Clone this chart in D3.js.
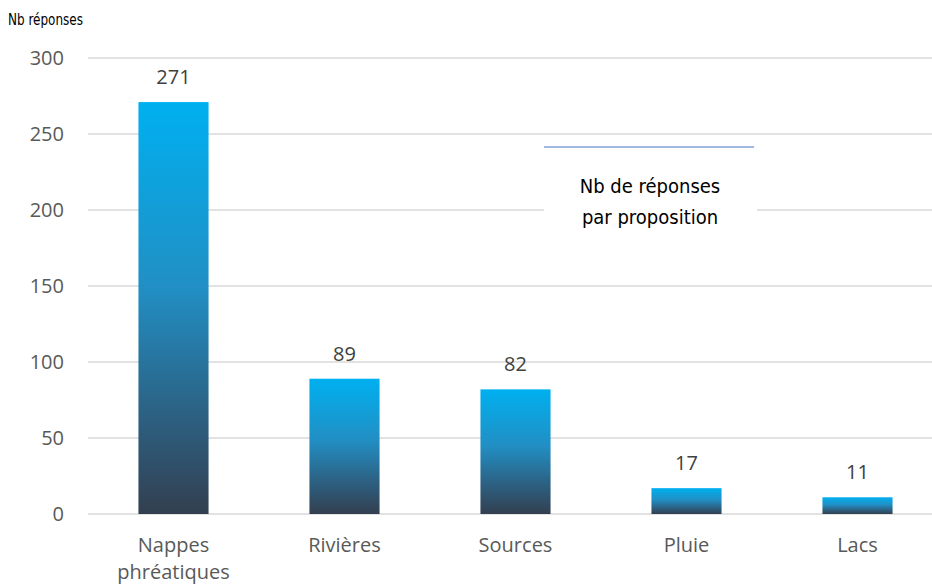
<!DOCTYPE html>
<html><head><meta charset="utf-8">
<script src="https://cdn.jsdelivr.net/npm/d3@7"></script>
<style>html,body{margin:0;padding:0;background:#fff;}svg{display:block;}</style>
</head><body>
<script>
const categories = [["Nappes","phréatiques"],["Rivières"],["Sources"],["Pluie"],["Lacs"]];
const values = [271, 89, 82, 17, 11];
const yTicks = [0, 50, 100, 150, 200, 250, 300];
const yTitle = "Nb réponses";
const noteLines = ["Nb de réponses", "par proposition"];

const W = 932, H = 585;
const svg = d3.select("body").append("svg").attr("width", W).attr("height", H);
const defs = svg.append("defs");
const grad = defs.append("linearGradient").attr("id","g").attr("x1",0).attr("y1",0).attr("x2",0).attr("y2",1);
grad.append("stop").attr("offset","0%").attr("stop-color","#00b0f0");
grad.append("stop").attr("offset","45%").attr("stop-color","#218fc4");
grad.append("stop").attr("offset","75%").attr("stop-color","#2c6284");
grad.append("stop").attr("offset","100%").attr("stop-color","#333f50");

const x = d3.scaleBand().domain(categories.map((d,i)=>i)).range([88, 943]).paddingInner(0.59).paddingOuter(0.295);
const y = d3.scaleLinear().domain([0,300]).range([514, 58]);
const FONT = "'Open Sans', sans-serif";
const NARROW = "'Liberation Sans Narrow','DejaVu Sans Condensed', sans-serif";

// gridlines
svg.append("g").selectAll("line").data(yTicks).join("line")
  .attr("x1", 88).attr("x2", W).attr("y1", d=>y(d)).attr("y2", d=>y(d))
  .attr("stroke", "#d9d9d9").attr("stroke-width", 1.3);

// y axis labels
const yAxis = d3.axisLeft(y).tickValues(yTicks).tickSize(0).tickPadding(0);
const ya = svg.append("g").attr("transform","translate(64,0)").call(yAxis);
ya.select(".domain").remove();
ya.selectAll("text").attr("font-family",FONT).attr("font-size", 20).attr("fill","#595959");

// bars
svg.append("g").selectAll("rect").data(values).join("rect")
  .attr("x", (d,i)=>x(i)).attr("width", x.bandwidth())
  .attr("y", d=>y(d)).attr("height", d=>y(0)-y(d))
  .attr("fill","url(#g)");

// value labels
svg.append("g").selectAll("text").data(values).join("text")
  .attr("x",(d,i)=>x(i)+x.bandwidth()/2).attr("y", d=>y(d)-18)
  .attr("text-anchor","middle").attr("font-family",FONT)
  .attr("font-size",20).attr("fill","#404040").text(d=>d);

// x labels
const xl = svg.append("g").selectAll("text").data(categories).join("text")
  .attr("text-anchor","middle").attr("font-family",FONT)
  .attr("font-size",20).attr("fill","#595959");
xl.each(function(d,i){
  const t = d3.select(this);
  d.forEach((s,j)=>t.append("tspan").attr("x", x(i)+x.bandwidth()/2).attr("y", 552 + j*27).text(s));
});

// y title
svg.append("text").attr("x", 8).attr("y", 25)
  .attr("font-family",NARROW).attr("textLength",75).attr("lengthAdjust","spacingAndGlyphs")
  .attr("font-size", 15).attr("fill","#000").text(yTitle);

// note box
const bx = 544, bw = 213, by = 147, bh = 92;
svg.append("rect").attr("x",bx).attr("y",by).attr("width",bw).attr("height",bh).attr("fill","#fff");
svg.append("line").attr("x1",bx).attr("x2",754).attr("y1",by).attr("y2",by).attr("stroke","#4472c4").attr("stroke-width",1);
svg.append("g").selectAll("text").data(noteLines).join("text")
  .attr("x", 650).attr("y",(d,i)=>193 + i*31).attr("text-anchor","middle")
  .attr("font-family",NARROW)
  .attr("font-size", 20).attr("fill","#000").text(d=>d);
</script>
</body></html>
